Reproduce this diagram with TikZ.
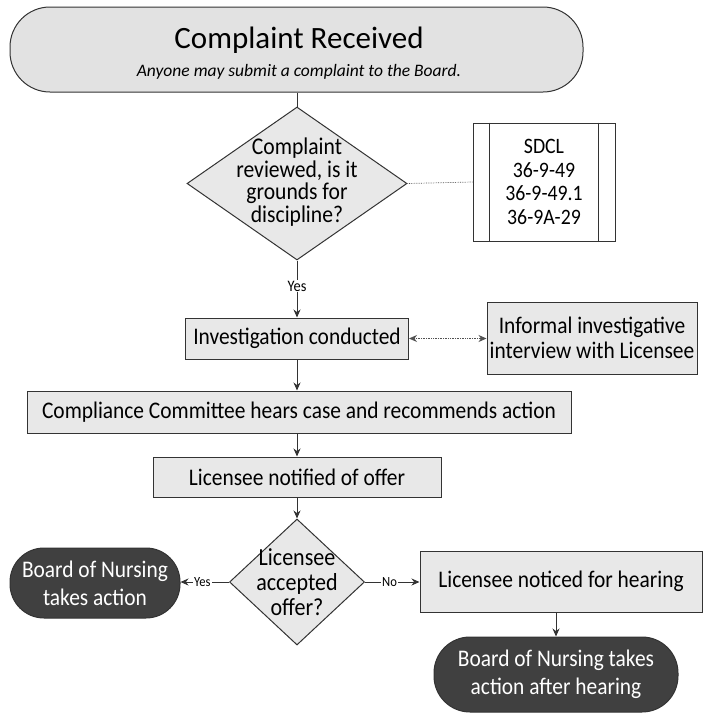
\documentclass[tikz,border=0pt]{standalone}
\usepackage{fontspec}
\setmainfont{Carlito}
\newfontfamily\cond[FakeStretch=0.9]{Carlito}
\usetikzlibrary{shapes.geometric,arrows.meta}
\definecolor{boxfill}{HTML}{E8E8E8}
\definecolor{topfill}{HTML}{E2E2E2}
\definecolor{darkfill}{HTML}{404040}
\definecolor{edge}{HTML}{333333}
\tikzset{
  box/.style={draw=edge, line width=1pt, fill=boxfill, rectangle, inner sep=0pt, align=center, font=\cond\fontsize{23.8}{25}\selectfont},
  darkbox/.style={draw=edge, line width=1pt, fill=darkfill, text=white, rectangle, inner sep=0pt, align=center, font=\cond\fontsize{23.8}{28}\selectfont},
  dia/.style={draw=edge, line width=1pt, fill=boxfill, diamond, inner sep=0pt},
  dtext/.style={align=center, inner sep=0pt},
  conn/.style={draw=edge, line width=1pt, -{Stealth[length=8pt,width=7pt]}},
  plainline/.style={draw=edge, line width=1pt},
  dotline/.style={draw=edge!85, line width=0.7pt, densely dotted},
  lbl/.style={fill=white, inner sep=1pt, font=\cond\fontsize{14}{16}\selectfont}
}
\begin{document}
\begin{tikzpicture}[x=1pt,y=-1pt]
\useasboundingbox (0,0) rectangle (712,715);
% top
\node[box, fill=topfill, rounded corners=40pt, minimum width=573pt, minimum height=85pt] (top) at (296.5,49.5) {};
\node[font=\fontsize{31}{34}\selectfont, inner sep=0pt] (toptitle) at (299,40) {Complaint Received};
\node[font=\fontsize{17.5}{20}\selectfont\itshape, inner sep=0pt] (topsub) at (299,72) {Anyone may submit a complaint to the Board.};
% diamond 1
\node[dia, minimum width=220pt, minimum height=153pt] (d1) at (297,183.5) {};
\node[dtext, font=\cond\fontsize{24}{22.5}\selectfont] (d1t) at (297,182) {Complaint\\reviewed, is it\\grounds for\\discipline?};
% SDCL box
\node[box, fill=white, minimum width=142pt, minimum height=118pt, font=\cond\fontsize{22}{23.5}\selectfont] (sdcl) at (544,182) {SDCL\\36-9-49\\36-9-49.1\\36-9A-29};
\draw[plainline] ([xshift=17pt]sdcl.north west) -- ([xshift=17pt]sdcl.south west);
\draw[plainline] ([xshift=-17pt]sdcl.north east) -- ([xshift=-17pt]sdcl.south east);
% investigation
\node[box, minimum width=223pt, minimum height=41pt] (inv) at (297,338.5) {Investigation conducted};
\node[box, minimum width=210pt, minimum height=72pt] (inf) at (592,338) {Informal investigative\\interview with Licensee};
% compliance
\node[box, minimum width=544pt, minimum height=42pt] (comp) at (299,412) {Compliance Committee hears case and recommends action};
% notified
\node[box, minimum width=288pt, minimum height=40pt] (notif) at (297,477) {Licensee notified of offer};
% diamond 2
\node[dia, minimum width=135pt, minimum height=126pt] (d2) at (297,582) {};
\node[dtext, font=\cond\fontsize{24.5}{25}\selectfont] (d2t) at (297,582) {Licensee\\accepted\\offer?};
% board 1
\node[darkbox, rounded corners=34pt, minimum width=170pt, minimum height=70pt] (b1) at (95,583) {Board of Nursing\\takes action};
% hearing
\node[box, minimum width=282pt, minimum height=61pt] (hear) at (561,581.5) {Licensee noticed for hearing};
% board 2
\node[darkbox, rounded corners=36pt, minimum width=244pt, minimum height=75pt] (b2) at (556,674.5) {Board of Nursing takes\\action after hearing};
% connectors
\draw[plainline] (top.south -| d1.north) -- (d1.north);
\draw[dotline] (d1.east) -- (sdcl.west);
\draw[conn] (d1.south) -- node[lbl, font=\cond\fontsize{16}{18}\selectfont, pos=0.45] (yes1) {Yes} (inv.north);
\draw[dotline, {Stealth[length=8pt,width=7pt]}-{Stealth[length=8pt,width=7pt]}] (inv.east) -- (inf.west |- inv.east);
\draw[conn] (inv.south) -- (inv.south |- comp.north);
\draw[conn] (comp.south -| notif.north) -- (notif.north);
\draw[conn] (notif.south) -- (d2.north);
\draw[conn] (d2.west) -- node[lbl, pos=0.55] (yes2) {Yes} (b1.east |- d2.west);
\draw[conn] (d2.east) -- node[lbl, pos=0.45] (no2) {No} (hear.west |- d2.east);
\draw[conn] (b2.north |- hear.south) -- (b2.north);
\end{tikzpicture}
\end{document}
